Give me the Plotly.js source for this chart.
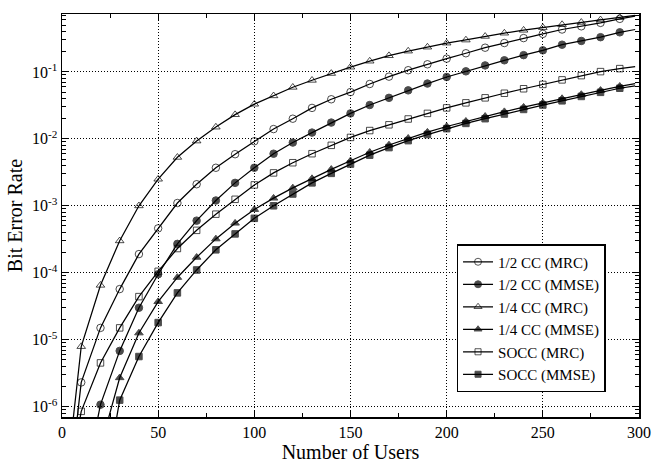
<!DOCTYPE html>
<html>
<head>
<meta charset="utf-8">
<script src="https://cdn.plot.ly/plotly-3.0.1.min.js"></script>
<style>
html,body{margin:0;padding:0;background:#fff;}
#chart{width:653px;height:463px;}
</style>
</head>
<body>
<div id="chart"></div>
<script>
// ---- data ----
const usersGrid = [10,20,30,40,50,60,70,80,90,100,110,120,130,140,150,160,170,180,190,200,210,220,230,240,250,260,270,280,290];

const seriesNames = ['1/2 CC (MRC)', '1/2 CC (MMSE)', '1/4 CC (MRC)', '1/4 CC (MMSE)', 'SOCC (MRC)', 'SOCC (MMSE)'];

// x values: first entry = where the curve leaves the bottom of the plot, last = curve end at the right border
const halfMRC_x = [7].concat(usersGrid, [298]);
const halfMRC_y = [4e-7, 2.3e-6, 1.5e-5, 5.7e-5, 1.9e-4, 4.6e-4, 1.1e-3, 2.1e-3, 3.7e-3, 5.9e-3, 9.2e-3,
  1.4e-2, 2.0e-2, 2.9e-2, 3.9e-2, 5.0e-2, 6.6e-2, 8.5e-2, 0.106, 0.13, 0.158,
  0.19, 0.23, 0.27, 0.32, 0.37, 0.43, 0.48, 0.54, 0.62, 0.68];

const halfMMSE_x = [17].concat(usersGrid.slice(1), [298]);
const halfMMSE_y = [4e-7, 1.07e-6, 6.8e-6, 3.0e-5, 9.5e-5, 2.7e-4, 6.0e-4, 1.2e-3, 2.2e-3, 3.7e-3,
  6.0e-3, 8.8e-3, 1.24e-2, 1.75e-2, 2.4e-2, 3.2e-2, 4.1e-2, 5.3e-2, 6.7e-2, 8.4e-2,
  0.102, 0.125, 0.149, 0.178, 0.21, 0.255, 0.29, 0.33, 0.39, 0.43];

const quarterMRC_x = [5].concat(usersGrid, [298]);
const quarterMRC_y = [4e-7, 7.9e-6, 6.5e-5, 3.0e-4, 1.0e-3, 2.5e-3, 5.3e-3, 9.3e-3, 1.5e-2, 2.3e-2, 3.3e-2,
  4.4e-2, 5.9e-2, 7.5e-2, 9.5e-2, 0.118, 0.145, 0.175, 0.205, 0.235, 0.27,
  0.30, 0.34, 0.38, 0.42, 0.46, 0.51, 0.55, 0.60, 0.65, 0.70];

const quarterMMSE_x = [22].concat(usersGrid.slice(2), [298]);
const quarterMMSE_y = [4e-7, 2.7e-6, 1.26e-5, 3.7e-5, 8.5e-5, 1.7e-4, 3.2e-4, 5.5e-4, 8.8e-4,
  1.3e-3, 1.85e-3, 2.55e-3, 3.5e-3, 4.7e-3, 6.3e-3, 8.1e-3, 1.02e-2, 1.26e-2, 1.53e-2,
  1.83e-2, 2.17e-2, 2.55e-2, 2.97e-2, 3.45e-2, 4.0e-2, 4.6e-2, 5.3e-2, 6.1e-2, 6.7e-2];

const soccMRC_x = [8].concat(usersGrid, [298]);
const soccMRC_y = [4e-7, 8.5e-7, 4.5e-6, 1.5e-5, 4.4e-5, 1.05e-4, 2.3e-4, 4.3e-4, 7.5e-4, 1.25e-3, 2.05e-3,
  3.1e-3, 4.4e-3, 6.0e-3, 8.0e-3, 1.05e-2, 1.33e-2, 1.62e-2, 1.98e-2, 2.4e-2, 2.9e-2,
  3.45e-2, 4.1e-2, 4.8e-2, 5.6e-2, 6.5e-2, 7.6e-2, 8.8e-2, 0.101, 0.112, 0.12];

const soccMMSE_x = [27].concat(usersGrid.slice(2), [298]);
const soccMMSE_y = [4e-7, 1.25e-6, 5.6e-6, 1.8e-5, 5.0e-5, 1.1e-4, 2.2e-4, 3.8e-4, 6.5e-4,
  1.0e-3, 1.5e-3, 2.2e-3, 3.05e-3, 4.2e-3, 5.7e-3, 7.4e-3, 9.4e-3, 1.16e-2, 1.42e-2,
  1.7e-2, 2.0e-2, 2.35e-2, 2.75e-2, 3.2e-2, 3.7e-2, 4.3e-2, 4.95e-2, 5.7e-2, 6.2e-2];

const xTickVals = [0, 50, 100, 150, 200, 250, 300];
const yTickVals = [1e-6, 1e-5, 1e-4, 1e-3, 1e-2, 1e-1];
const yTickText = ['10<sup>-6</sup>', '10<sup>-5</sup>', '10<sup>-4</sup>', '10<sup>-3</sup>', '10<sup>-2</sup>', '10<sup>-1</sup>'];

// ---- styling ----
const FONT = 'Liberation Serif, Times New Roman, serif';
const xs = [halfMRC_x, halfMMSE_x, quarterMRC_x, quarterMMSE_x, soccMRC_x, soccMMSE_x];
const ys = [halfMRC_y, halfMMSE_y, quarterMRC_y, quarterMMSE_y, soccMRC_y, soccMMSE_y];
const symbols = ['circle-open', 'circle', 'triangle-up-open', 'triangle-up', 'square-open', 'square'];
const sizes = [7.5, 7.5, 7.5, 7.5, 6.5, 6.5];

const traces = seriesNames.map((name, i) => {
  const onGrid = xs[i].map(v => v % 10 === 0);
  return {
    type: 'scatter', mode: 'lines+markers', name: name,
    x: xs[i], y: ys[i],
    line: {color: '#000', width: 1.25},
    marker: {
      symbol: symbols[i], color: '#000',
      size: onGrid.map(g => g ? sizes[i] : 0),
      line: {color: '#000', width: onGrid.map(g => g ? 1 : 0)}
    }
  };
});

// minor tick positions on log axis: 2..9 x each decade
const minorY = [];
for (let e = -7; e <= 0; e++) {
  for (let m = 2; m <= 9; m++) minorY.push(m * Math.pow(10, e));
}

const layout = {
  width: 653, height: 463,
  margin: {l: 62, r: 14, t: 14, b: 45.5},
  paper_bgcolor: '#fff', plot_bgcolor: '#fff',
  font: {family: FONT, size: 16, color: '#000'},
  showlegend: true,
  legend: {
    x: 0.942, y: 0.062, xanchor: 'right', yanchor: 'bottom',
    bgcolor: '#fff', bordercolor: '#000', borderwidth: 1.5,
    font: {family: FONT, size: 15, color: '#000'},
    itemwidth: 30, tracegroupgap: 0
  },
  xaxis: {
    range: [0, 300], tickmode: 'array', tickvals: xTickVals,
    ticks: 'inside', ticklen: 7, tickwidth: 1, tickcolor: '#000',
    mirror: 'allticks', showline: true, linecolor: '#000', linewidth: 1.5,
    showgrid: true, gridcolor: '#000', gridwidth: 1, griddash: '1px,2px',
    zeroline: false, tickfont: {family: FONT, size: 16},
    minor: {tickmode: 'array', tickvals: [25, 75, 125, 175, 225, 275], ticks: 'inside', ticklen: 4, tickcolor: '#000', showgrid: false},
    title: {text: 'Number of Users', font: {family: FONT, size: 20}, standoff: 4}
  },
  yaxis: {
    type: 'log', range: [-6.155, -0.135],
    tickmode: 'array', tickvals: yTickVals, ticktext: yTickText,
    ticks: 'inside', ticklen: 7, tickwidth: 1, tickcolor: '#000',
    mirror: 'allticks', showline: true, linecolor: '#000', linewidth: 1.5,
    showgrid: true, gridcolor: '#000', gridwidth: 1, griddash: '1px,2px',
    zeroline: false, tickfont: {family: FONT, size: 16},
    minor: {tickmode: 'array', tickvals: minorY, ticks: 'inside', ticklen: 4, tickcolor: '#000', showgrid: false},
    title: {text: 'Bit Error Rate', font: {family: FONT, size: 20}, standoff: 4}
  }
};

Plotly.newPlot('chart', traces, layout, {displayModeBar: false, staticPlot: true});
</script>
</body>
</html>
